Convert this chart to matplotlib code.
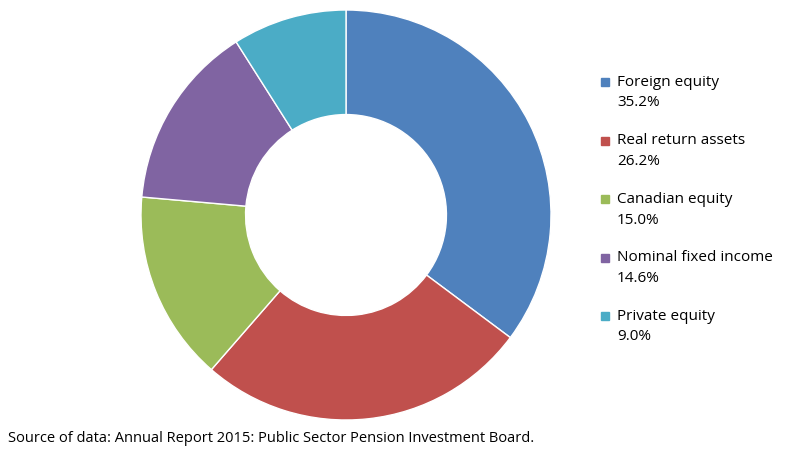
import matplotlib.pyplot as plt

labels = ["Foreign equity", "Real return assets", "Canadian equity",
          "Nominal fixed income", "Private equity"]
shares = [35.2, 26.2, 15.0, 14.6, 9.0]
colors = ["#4F81BD", "#C0504D", "#9BBB59", "#8064A2", "#4BACC6"]

plt.rcParams["font.family"] = "Open Sans"

fig = plt.figure(figsize=(7.95, 4.5), dpi=100)
ax = fig.add_axes([141 / 795, 30 / 450, 410 / 795, 410 / 450])
ax.pie(shares, colors=colors, startangle=90, counterclock=False,
       radius=1.0, wedgeprops=dict(width=0.51, edgecolor="white", linewidth=1))
ax.set_aspect("equal")
ax.set_xlim(-1, 1)
ax.set_ylim(-1, 1)
ax.axis("off")

# legend drawn by hand
y0 = 82
for i, (lab, val) in enumerate(zip(labels, shares)):
    y = y0 + i * 58.5
    fig.patches.append(plt.Rectangle((601 / 795, 1 - (y + 4) / 450), 8 / 795, 8 / 450,
                                     transform=fig.transFigure, color=colors[i]))
    fig.text(617 / 795, 1 - y / 450, lab, fontsize=11, va="center", color="#000000")
    fig.text(617 / 795, 1 - (y + 21) / 450, f"{val:.1f}%", fontsize=11, va="center")

fig.text(8 / 795, 1 - 438 / 450,
         "Source of data: Annual Report 2015: Public Sector Pension Investment Board.",
         fontsize=10.5, va="center")

fig.savefig("out.png", dpi=100)
